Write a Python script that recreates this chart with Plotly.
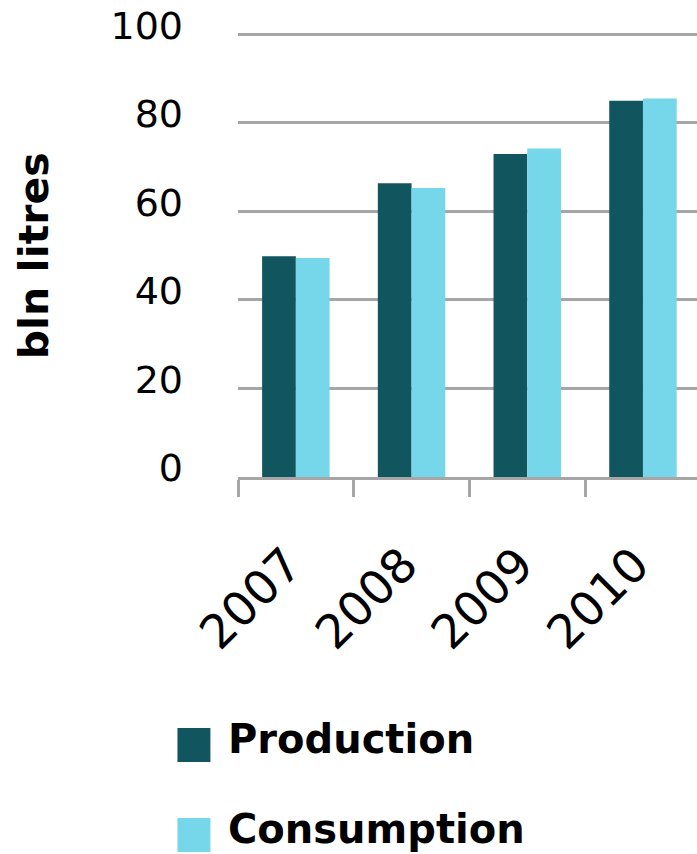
import plotly.graph_objects as go

years = ["2007", "2008", "2009", "2010"]
production = [49.9, 66.4, 73.0, 85.0]
consumption = [49.5, 65.3, 74.2, 85.5]
series_names = ["Production", "Consumption"]
y_ticks = [0, 20, 40, 60, 80, 100]
y_title = "bln litres"

C_PROD = "#11555f"
C_CONS = "#77d7ea"
GRID = "#a6a6a6"
FONT = "DejaVu Sans"

W, H = 697, 854
L, R = 237.6, 0
Y_TOP = 101
unit = (477 - 34.4) / 100.0
zero_px = 477
T = zero_px - Y_TOP * unit
B = H - zero_px
PW = W - L - R
PH = H - T - B

def px_x(px):
    return (px - L) / PW

def px_y(py):
    return (H - B - py) / PH

fig = go.Figure()
fig.add_bar(x=years, y=production, name=series_names[0], marker_color=C_PROD,
            marker_line_width=0, showlegend=False)
fig.add_bar(x=years, y=consumption, name=series_names[1], marker_color=C_CONS,
            marker_line_width=0, showlegend=False)

fig.update_layout(
    width=W, height=H,
    margin=dict(l=L, r=R, t=T, b=B, autoexpand=False),
    paper_bgcolor="white", plot_bgcolor="white",
    barmode="group", bargap=0.417, bargroupgap=0,
    font=dict(family=FONT, color="black"),
)
fig.update_xaxes(
    type="category", range=[-0.5, 3.467],
    showline=True, linecolor=GRID, linewidth=3,
    ticks="outside", tickson="boundaries", ticklen=17, tickwidth=2.5, tickcolor=GRID,
    tickangle=-45, tickfont=dict(size=47, family=FONT, color="black"),
    ticklabelstandoff=38, ticklabelshift=-8, showgrid=False, automargin=False,
    ticklabeloverflow="allow",
)
fig.update_yaxes(
    range=[0, Y_TOP], tickvals=y_ticks, showgrid=True, gridcolor=GRID, gridwidth=3,
    zeroline=False, showline=False, ticks="",
    tickfont=dict(size=38, family=FONT, color="black"),
    ticklabelstandoff=54, ticklabelshift=-9, ticklabeloverflow="allow",
    automargin=False,
)

# y-axis title as rotated annotation (centred on the plot height)
fig.add_annotation(xref="paper", yref="paper", x=px_x(33), y=0.5 * 100 / Y_TOP,
                   xanchor="center", yanchor="middle", showarrow=False, textangle=-90,
                   text=y_title,
                   font=dict(size=41, family=FONT, color="black", weight="bold"))

# legend (drawn manually to match large swatches)
legend_rows = [(series_names[0], C_PROD, 745), (series_names[1], C_CONS, 835)]
for name, col, cy in legend_rows:
    fig.add_shape(type="rect", xref="paper", yref="paper",
                  x0=px_x(177), x1=px_x(210), y0=px_y(cy + 17), y1=px_y(cy - 17),
                  fillcolor=col, line_width=0)
    fig.add_annotation(xref="paper", yref="paper", x=px_x(226), y=px_y(cy - 6),
                       xanchor="left", yanchor="middle", showarrow=False, text=name,
                       font=dict(size=40, family=FONT, color="black", weight="bold"))

fig.write_html("out.html", config={"displayModeBar": False},
               post_script="document.body.style.margin='0';")
